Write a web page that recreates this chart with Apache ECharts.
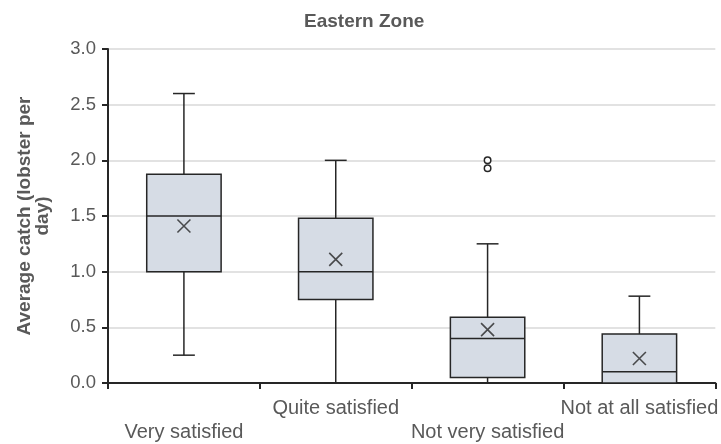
<!DOCTYPE html>
<html>
<head>
<meta charset="utf-8">
<script src="https://cdn.jsdelivr.net/npm/echarts@6/dist/echarts.min.js"></script>
<style>
  html, body { margin: 0; padding: 0; background: #fff; }
  #chart { width: 721px; height: 444px; }
</style>
</head>
<body>
<div id="chart"></div>
<script>
// Satisfaction groups on the x axis
const categories = ['Very satisfied', 'Quite satisfied', 'Not very satisfied', 'Not at all satisfied'];
// Five-number summaries per group: [min, Q1, median, Q3, max]
const whiskerLow  = [0.25, 0.00, 0.00, 0.00];
const quartile1   = [1.00, 0.75, 0.05, 0.00];
const medians     = [1.50, 1.00, 0.40, 0.10];
const quartile3   = [1.875, 1.48, 0.59, 0.44];
const whiskerHigh = [2.60, 2.00, 1.25, 0.78];
// Group means (drawn as crosses)
const means = [1.41, 1.11, 0.48, 0.22];
// Outlying observations: [group index, value]
const outliers = [[2, 2.00], [2, 1.93]];
// Y-axis ticks
const yTicks = [0, 0.5, 1.0, 1.5, 2.0, 2.5, 3.0];

const textColor = '#595959';
const lineColor = '#262626';
const boxFill = '#d6dce5';
const font = 'Liberation Sans, Arial, sans-serif';

const boxData = categories.map((c, i) => [i, whiskerLow[i], quartile1[i], medians[i], quartile3[i], whiskerHigh[i]]);

function renderBox(params, api) {
  const idx = api.value(0);
  const band = api.size([1, 0])[0];
  const halfBox = band * 0.245;
  const halfCap = band * 0.072;
  const pMin = api.coord([idx, api.value(1)]);
  const pQ1 = api.coord([idx, api.value(2)]);
  const pMed = api.coord([idx, api.value(3)]);
  const pQ3 = api.coord([idx, api.value(4)]);
  const pMax = api.coord([idx, api.value(5)]);
  const x = pMed[0];
  const stroke = { stroke: lineColor, lineWidth: 1.5, fill: null };
  return {
    type: 'group',
    children: [
      { type: 'line', shape: { x1: x, y1: pMax[1], x2: x, y2: pQ3[1] }, style: stroke },
      { type: 'line', shape: { x1: x - halfCap, y1: pMax[1], x2: x + halfCap, y2: pMax[1] }, style: stroke },
      { type: 'line', shape: { x1: x, y1: pQ1[1], x2: x, y2: pMin[1] }, style: stroke },
      { type: 'line', shape: { x1: x - halfCap, y1: pMin[1], x2: x + halfCap, y2: pMin[1] }, style: stroke },
      { type: 'rect', shape: { x: x - halfBox, y: pQ3[1], width: halfBox * 2, height: pQ1[1] - pQ3[1] },
        style: { fill: boxFill, stroke: lineColor, lineWidth: 1.5 } },
      { type: 'line', shape: { x1: x - halfBox, y1: pMed[1], x2: x + halfBox, y2: pMed[1] }, style: stroke }
    ]
  };
}

const chart = echarts.init(document.getElementById('chart'), null, { renderer: 'canvas' });
chart.setOption({
  animation: false,
  backgroundColor: '#ffffff',
  title: {
    text: 'Eastern Zone',
    left: 304,
    top: 12,
    padding: 0,
    textStyle: { fontFamily: font, fontSize: 19, fontWeight: 'bold', color: textColor }
  },
  grid: { left: 108, right: 3, top: 49, bottom: 61, containLabel: false },
  xAxis: {
    type: 'category',
    data: categories,
    boundaryGap: true,
    axisLine: { lineStyle: { color: lineColor, width: 2 } },
    axisTick: { show: true, interval: 0, alignWithLabel: false, length: 6, lineStyle: { color: lineColor, width: 2 } },
    axisLabel: {
      interval: 0,
      margin: 13,
      lineHeight: 24,
      fontFamily: font,
      fontSize: 20,
      color: textColor,
      formatter: (v, i) => (i % 2 === 0 ? '\n' + v : v)
    },
    splitLine: { show: false }
  },
  yAxis: {
    type: 'value',
    min: yTicks[0],
    max: yTicks[yTicks.length - 1],
    interval: 0.5,
    name: 'Average catch (lobster per\nday)',
    nameLocation: 'middle',
    nameRotate: 90,
    nameGap: 56,
    nameTextStyle: { fontFamily: font, fontSize: 19, fontWeight: 'bold', color: textColor, lineHeight: 18 },
    axisLine: { show: true, lineStyle: { color: lineColor, width: 2 } },
    axisTick: { show: true, length: 6, lineStyle: { color: lineColor, width: 2 } },
    axisLabel: {
      margin: 12,
      fontFamily: font,
      fontSize: 18.5,
      color: textColor,
      formatter: v => v.toFixed(1)
    },
    splitLine: { show: true, lineStyle: { color: '#d9d9d9', width: 1.5 } }
  },
  series: [
    {
      type: 'custom',
      renderItem: renderBox,
      encode: { x: 0, y: [1, 2, 3, 4, 5] },
      data: boxData,
      z: 2
    },
    {
      type: 'scatter',
      data: means.map((m, i) => [i, m]),
      symbol: 'path://M0,0L10,10M10,0L0,10',
      symbolSize: 13,
      itemStyle: { color: 'none', borderColor: lineColor, borderWidth: 1.6 },
      z: 3
    },
    {
      type: 'scatter',
      data: outliers,
      symbol: 'circle',
      symbolSize: 6.5,
      itemStyle: { color: '#ffffff', borderColor: lineColor, borderWidth: 1.5, opacity: 1 },
      z: 3
    }
  ]
});
</script>
</body>
</html>
